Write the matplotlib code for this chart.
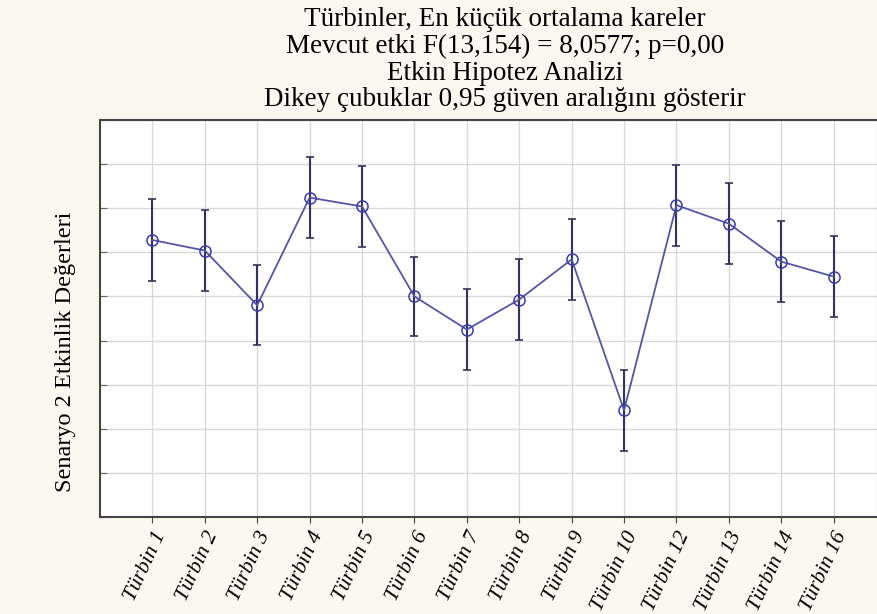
import matplotlib
matplotlib.use("Agg")
import matplotlib.pyplot as plt
import numpy as np

categories = ["Türbin 1", "Türbin 2", "Türbin 3", "Türbin 4", "Türbin 5", "Türbin 6",
              "Türbin 7", "Türbin 8", "Türbin 9", "Türbin 10", "Türbin 12", "Türbin 13",
              "Türbin 14", "Türbin 16"]
means = [6.28, 6.04, 4.80, 7.24, 7.04, 5.00, 4.25, 4.93, 5.84, 2.42, 7.07, 6.65, 5.79, 5.45]
ci_half = [0.92, 0.91, 0.91, 0.91, 0.92, 0.90, 0.92, 0.91, 0.91, 0.92, 0.92, 0.92, 0.92, 0.92]
y_ticks = list(range(0, 10))

title_lines = ["Türbinler, En küçük ortalama kareler",
               "Mevcut etki F(13,154) = 8,0577; p=0,00",
               "Etkin Hipotez Analizi",
               "Dikey çubuklar 0,95 güven aralığını gösterir"]
ylabel = "Senaryo 2 Etkinlik Değerleri"

bg = "#fbf9ef"
fig = plt.figure(figsize=(8.77, 6.14), dpi=100, facecolor=bg)
ax = fig.add_axes([100/877, 1 - 517/614, 1 - 100/877 + 0.001, (517 - 120)/614])
ax.set_facecolor("white")

x = np.arange(1, len(categories) + 1)
ax.errorbar(x, means, yerr=ci_half, fmt="none", ecolor="#33335e", elinewidth=1.5,
            capsize=3, capthick=1.2, zorder=3)
ax.plot(x, means, color="#5555a8", lw=1.3, marker="o", markersize=8,
        markerfacecolor="none", markeredgecolor="#3a3ab0", markeredgewidth=1.1, zorder=4)

ax.set_xlim(0, 1 + (877 - 153) / 52.3)
ax.set_ylim(0, 9)
ax.set_xticks(x)
ax.set_xticklabels(categories, rotation=65, ha="right", rotation_mode="anchor",
                   fontfamily="Liberation Serif", fontstyle="italic", fontsize=15.5)
ax.set_yticks(y_ticks)
ax.set_yticklabels([])
ax.grid(True, color="#d9d9d9", lw=1.0, zorder=0)
ax.set_axisbelow(True)
ax.tick_params(axis="x", direction="out", length=4, color="#444444", pad=4)
ax.tick_params(axis="y", direction="in", length=5, color="#666666")
for s in ax.spines.values():
    s.set_color("#444444")
    s.set_linewidth(1.5)

for i, (line, yc) in enumerate(zip(title_lines, [19, 46, 73, 100])):
    fig.text(505/877, 1 - yc/614, line, ha="center", va="center",
             fontfamily="Liberation Serif", fontsize=19.5)
fig.text(66/877, 1 - 352/614, ylabel, rotation=90, ha="center", va="center",
         fontfamily="Liberation Serif", fontsize=17.5)

fig.savefig("out.png", dpi=100, facecolor=bg)
